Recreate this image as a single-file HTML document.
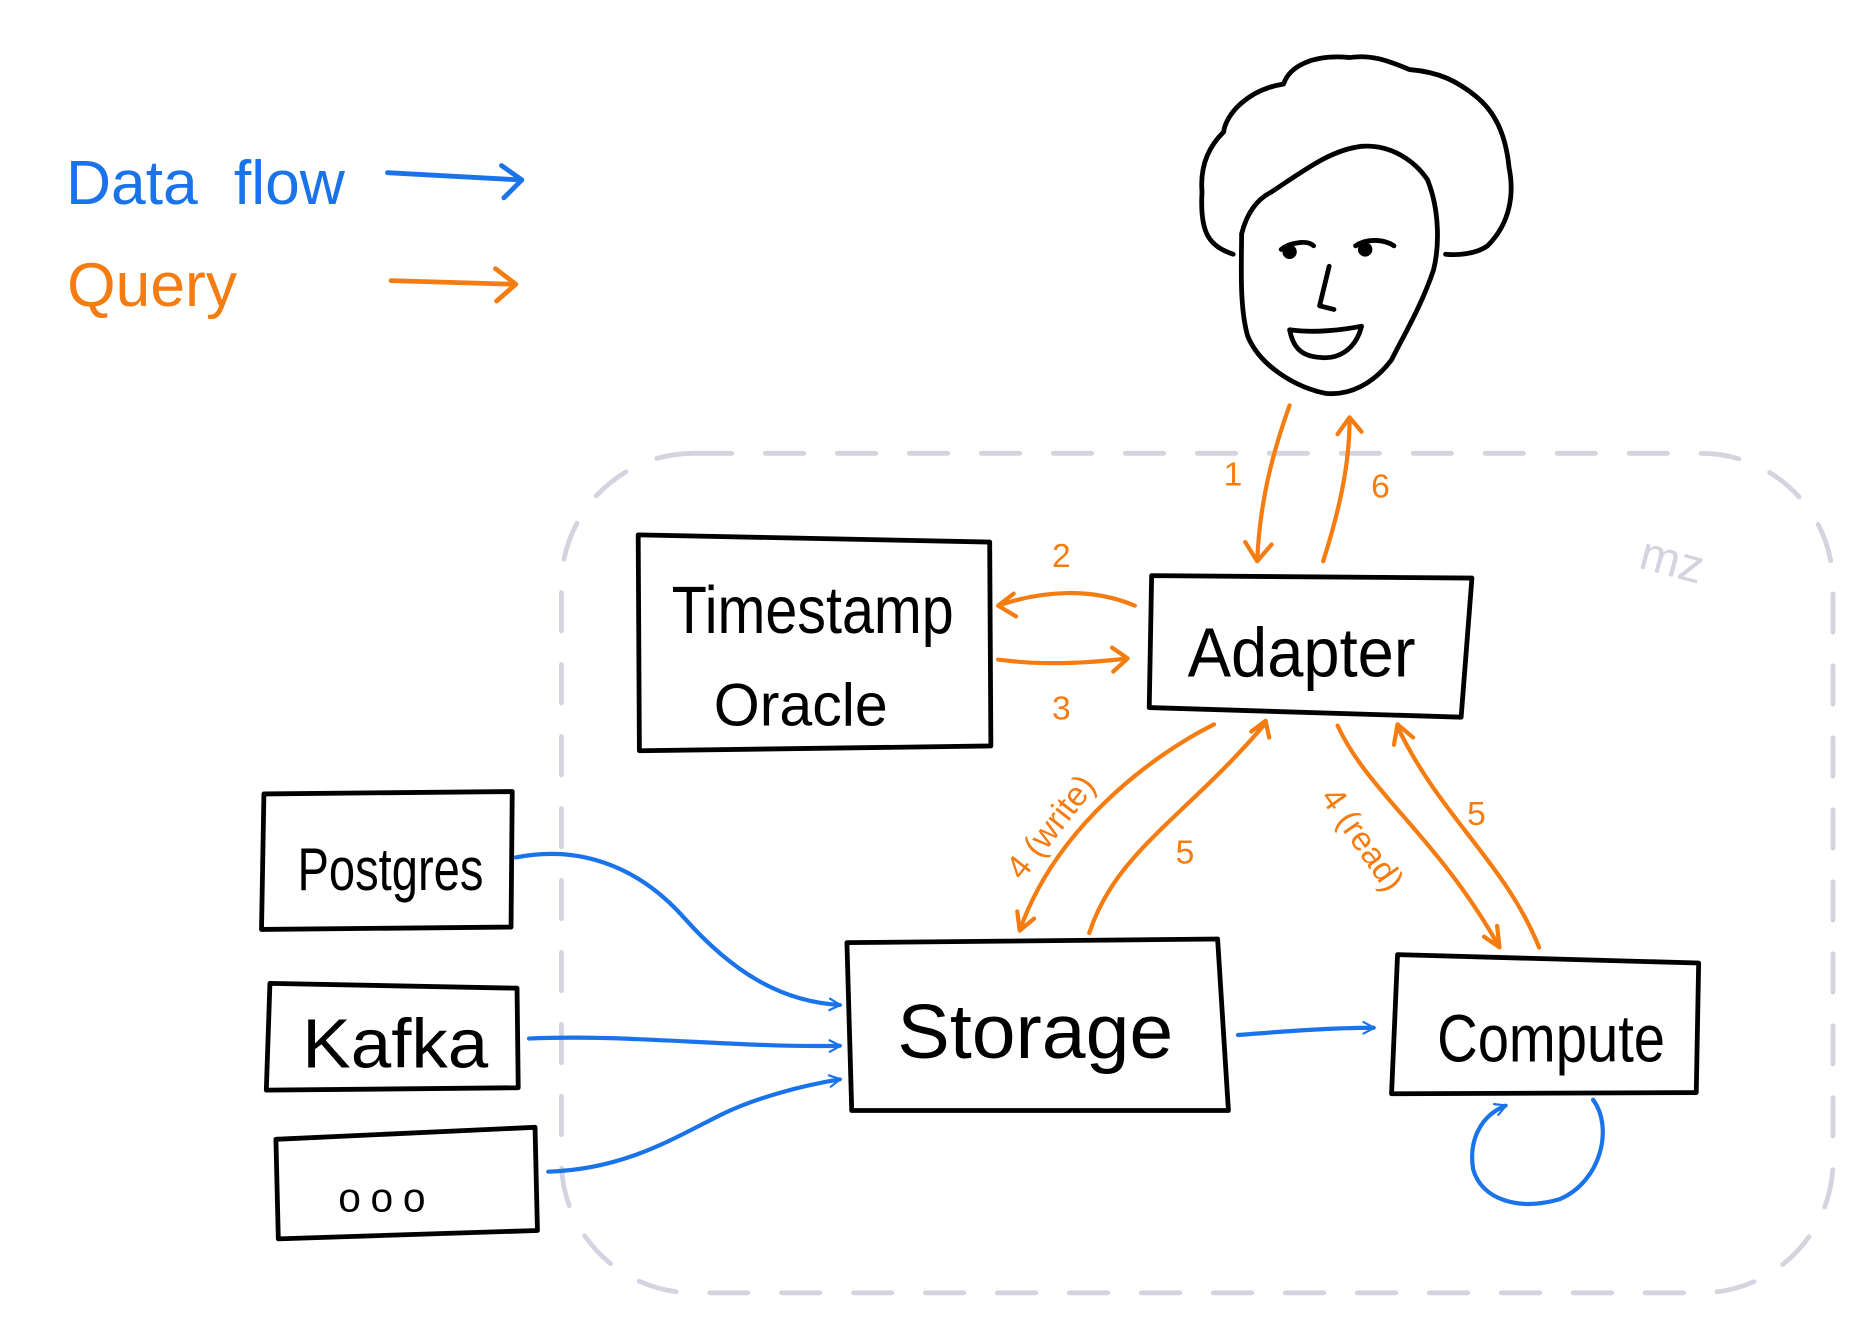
<!DOCTYPE html>
<html><head><meta charset="utf-8"><style>
html,body{margin:0;padding:0;background:#fff;}
svg{display:block}
text{font-family:"Liberation Sans",sans-serif}
</style></head><body>
<svg width="1869" height="1330" viewBox="0 0 1558 1109" preserveAspectRatio="none" xmlns="http://www.w3.org/2000/svg">
<defs>
<marker id="ab" viewBox="0 0 20 20" refX="16" refY="10" markerWidth="12" markerHeight="12" orient="auto" markerUnits="userSpaceOnUse"><path d="M2,2 L17,10 L2,18" fill="none" stroke="#1a73e8" stroke-width="3" stroke-linecap="round"/></marker>
</defs>
<g fill="none" stroke-linecap="round" stroke-linejoin="round">
<rect x="468" y="378" width="1060" height="700" rx="110" stroke="#d4d4e0" stroke-width="4" stroke-dasharray="32 28"/>
<path d="M323,144 L433,150 M418,138 L435,150 L420,165" stroke="#1a73e8" stroke-width="4"/>
<path d="M326,234 L428,237 M413,224 L430,237 L414,251" stroke="#f47c10" stroke-width="4"/>
<g stroke="#000" stroke-width="4">
<path d="M1028,212 C1008,205 1000,195 1002,160 C1000,135 1010,120 1020,110 C1022,95 1040,75 1070,70 C1075,55 1095,45 1125,48 C1145,45 1160,52 1175,58 C1200,60 1215,68 1230,80 C1245,92 1255,110 1258,140 C1262,160 1260,185 1240,205 C1230,212 1215,213 1205,212"/>
<path d="M1035,195 C1040,175 1050,165 1060,160 C1090,140 1110,125 1135,122 C1160,120 1180,135 1190,150 C1200,175 1200,205 1195,225 C1185,255 1170,280 1160,300 C1145,320 1125,330 1105,328 C1080,323 1050,305 1040,280 C1033,255 1035,220 1035,195 Z"/>
<path d="M1068,208 C1075,202 1090,200 1095,205 M1130,205 C1140,198 1155,200 1162,205"/>
<circle cx="1075" cy="210" r="4" fill="#000"/><circle cx="1138" cy="208" r="4" fill="#000"/>
<path d="M1108,222 L1100,255 L1112,258"/>
<path d="M1075,275 C1095,278 1120,275 1135,272 C1130,292 1115,300 1100,298 C1085,297 1078,290 1075,275 Z"/>
</g>
<g stroke="#000" stroke-width="4">
<path d="M532,446 L825,452 L826,622 L533,626 Z"/>
<path d="M960,480 L1227,482 L1218,598 L958,590 Z"/>
<path d="M220,662 L427,660 L426,773 L218,775 Z"/>
<path d="M225,820 L431,824 L432,907 L222,909 Z"/>
<path d="M230,950 L446,940 L448,1026 L232,1033 Z"/>
<path d="M706,786 L1015,783 L1024,926 L710,926 Z"/>
<path d="M1165,796 L1416,803 L1414,911 L1160,912 Z"/>
</g>
<g stroke="#f47c10" stroke-width="3.5">
<path d="M1075,338 C1060,380 1050,420 1048,468 M1038,452 L1048,468 L1060,454"/>
<path d="M1103,468 C1115,430 1125,390 1125,350 M1115,362 L1125,348 L1135,360"/>
<path d="M946,505 C910,490 870,492 832,505 M845,495 L832,505 L847,514"/>
<path d="M832,550 C870,555 905,553 940,549 M927,540 L940,549 L928,560"/>
<path d="M1012,604 C960,630 880,690 850,776 M848,760 L850,776 L862,766"/>
<path d="M908,778 C930,710 990,680 1055,603 M1043,610 L1055,601 L1058,615"/>
<path d="M1115,605 C1140,660 1200,700 1250,790 M1248,772 L1250,790 L1237,781"/>
<path d="M1283,790 C1255,720 1200,680 1165,606 M1162,621 L1165,604 L1178,615"/>
</g>
<g stroke="#1a73e8" stroke-width="3.5">
<path d="M430,715 C480,705 530,720 570,765 C610,810 650,835 700,838" marker-end="url(#ab)"/>
<path d="M441,866 C520,862 620,874 700,872" marker-end="url(#ab)"/>
<path d="M457,977 C520,975 560,950 600,930 C630,915 670,905 700,900" marker-end="url(#ab)"/>
<path d="M1032,863 C1070,860 1110,857 1145,857" marker-end="url(#ab)"/>
<path d="M1328,917 C1345,940 1335,985 1300,1000 C1265,1010 1235,1000 1228,975 C1224,950 1235,930 1255,922" marker-end="url(#ab)"/>
</g>
</g>
<g font-family="Liberation Sans, sans-serif">
<text x="55" y="170" font-size="52" fill="#1a73e8">Data</text>
<text x="195" y="170" font-size="52" fill="#1a73e8">flow</text>
<text x="56" y="255" font-size="52" fill="#f47c10">Query</text>
<text x="1368" y="482" font-size="40" fill="#d4d4e0" transform="rotate(15 1400 465)">mz</text>
<text x="560" y="528" font-size="56" fill="#000" textLength="235" lengthAdjust="spacingAndGlyphs">Timestamp</text>
<text x="595" y="605" font-size="50" fill="#000" textLength="145" lengthAdjust="spacingAndGlyphs">Oracle</text>
<text x="990" y="564" font-size="58" fill="#000" textLength="190" lengthAdjust="spacingAndGlyphs">Adapter</text>
<text x="248" y="742" font-size="50" fill="#000" textLength="155" lengthAdjust="spacingAndGlyphs">Postgres</text>
<text x="252" y="890" font-size="58" fill="#000" textLength="155" lengthAdjust="spacingAndGlyphs">Kafka</text>
<text x="282" y="1010" font-size="34" fill="#000" letter-spacing="8">ooo</text>
<text x="748" y="882" font-size="64" fill="#000" textLength="230" lengthAdjust="spacingAndGlyphs">Storage</text>
<text x="1198" y="885" font-size="56" fill="#000" textLength="190" lengthAdjust="spacingAndGlyphs">Compute</text>
<g fill="#f47c10" font-size="28">
<text x="1020" y="405">1</text>
<text x="1143" y="415">6</text>
<text x="877" y="473">2</text>
<text x="877" y="600">3</text>
<text x="980" y="720">5</text>
<text x="1223" y="688">5</text>
<text x="852" y="735" transform="rotate(-52 852 735)">4 (write)</text>
<text x="1100" y="665" transform="rotate(55 1100 665)">4 (read)</text>
</g>
</g>
</svg>
</body></html>
